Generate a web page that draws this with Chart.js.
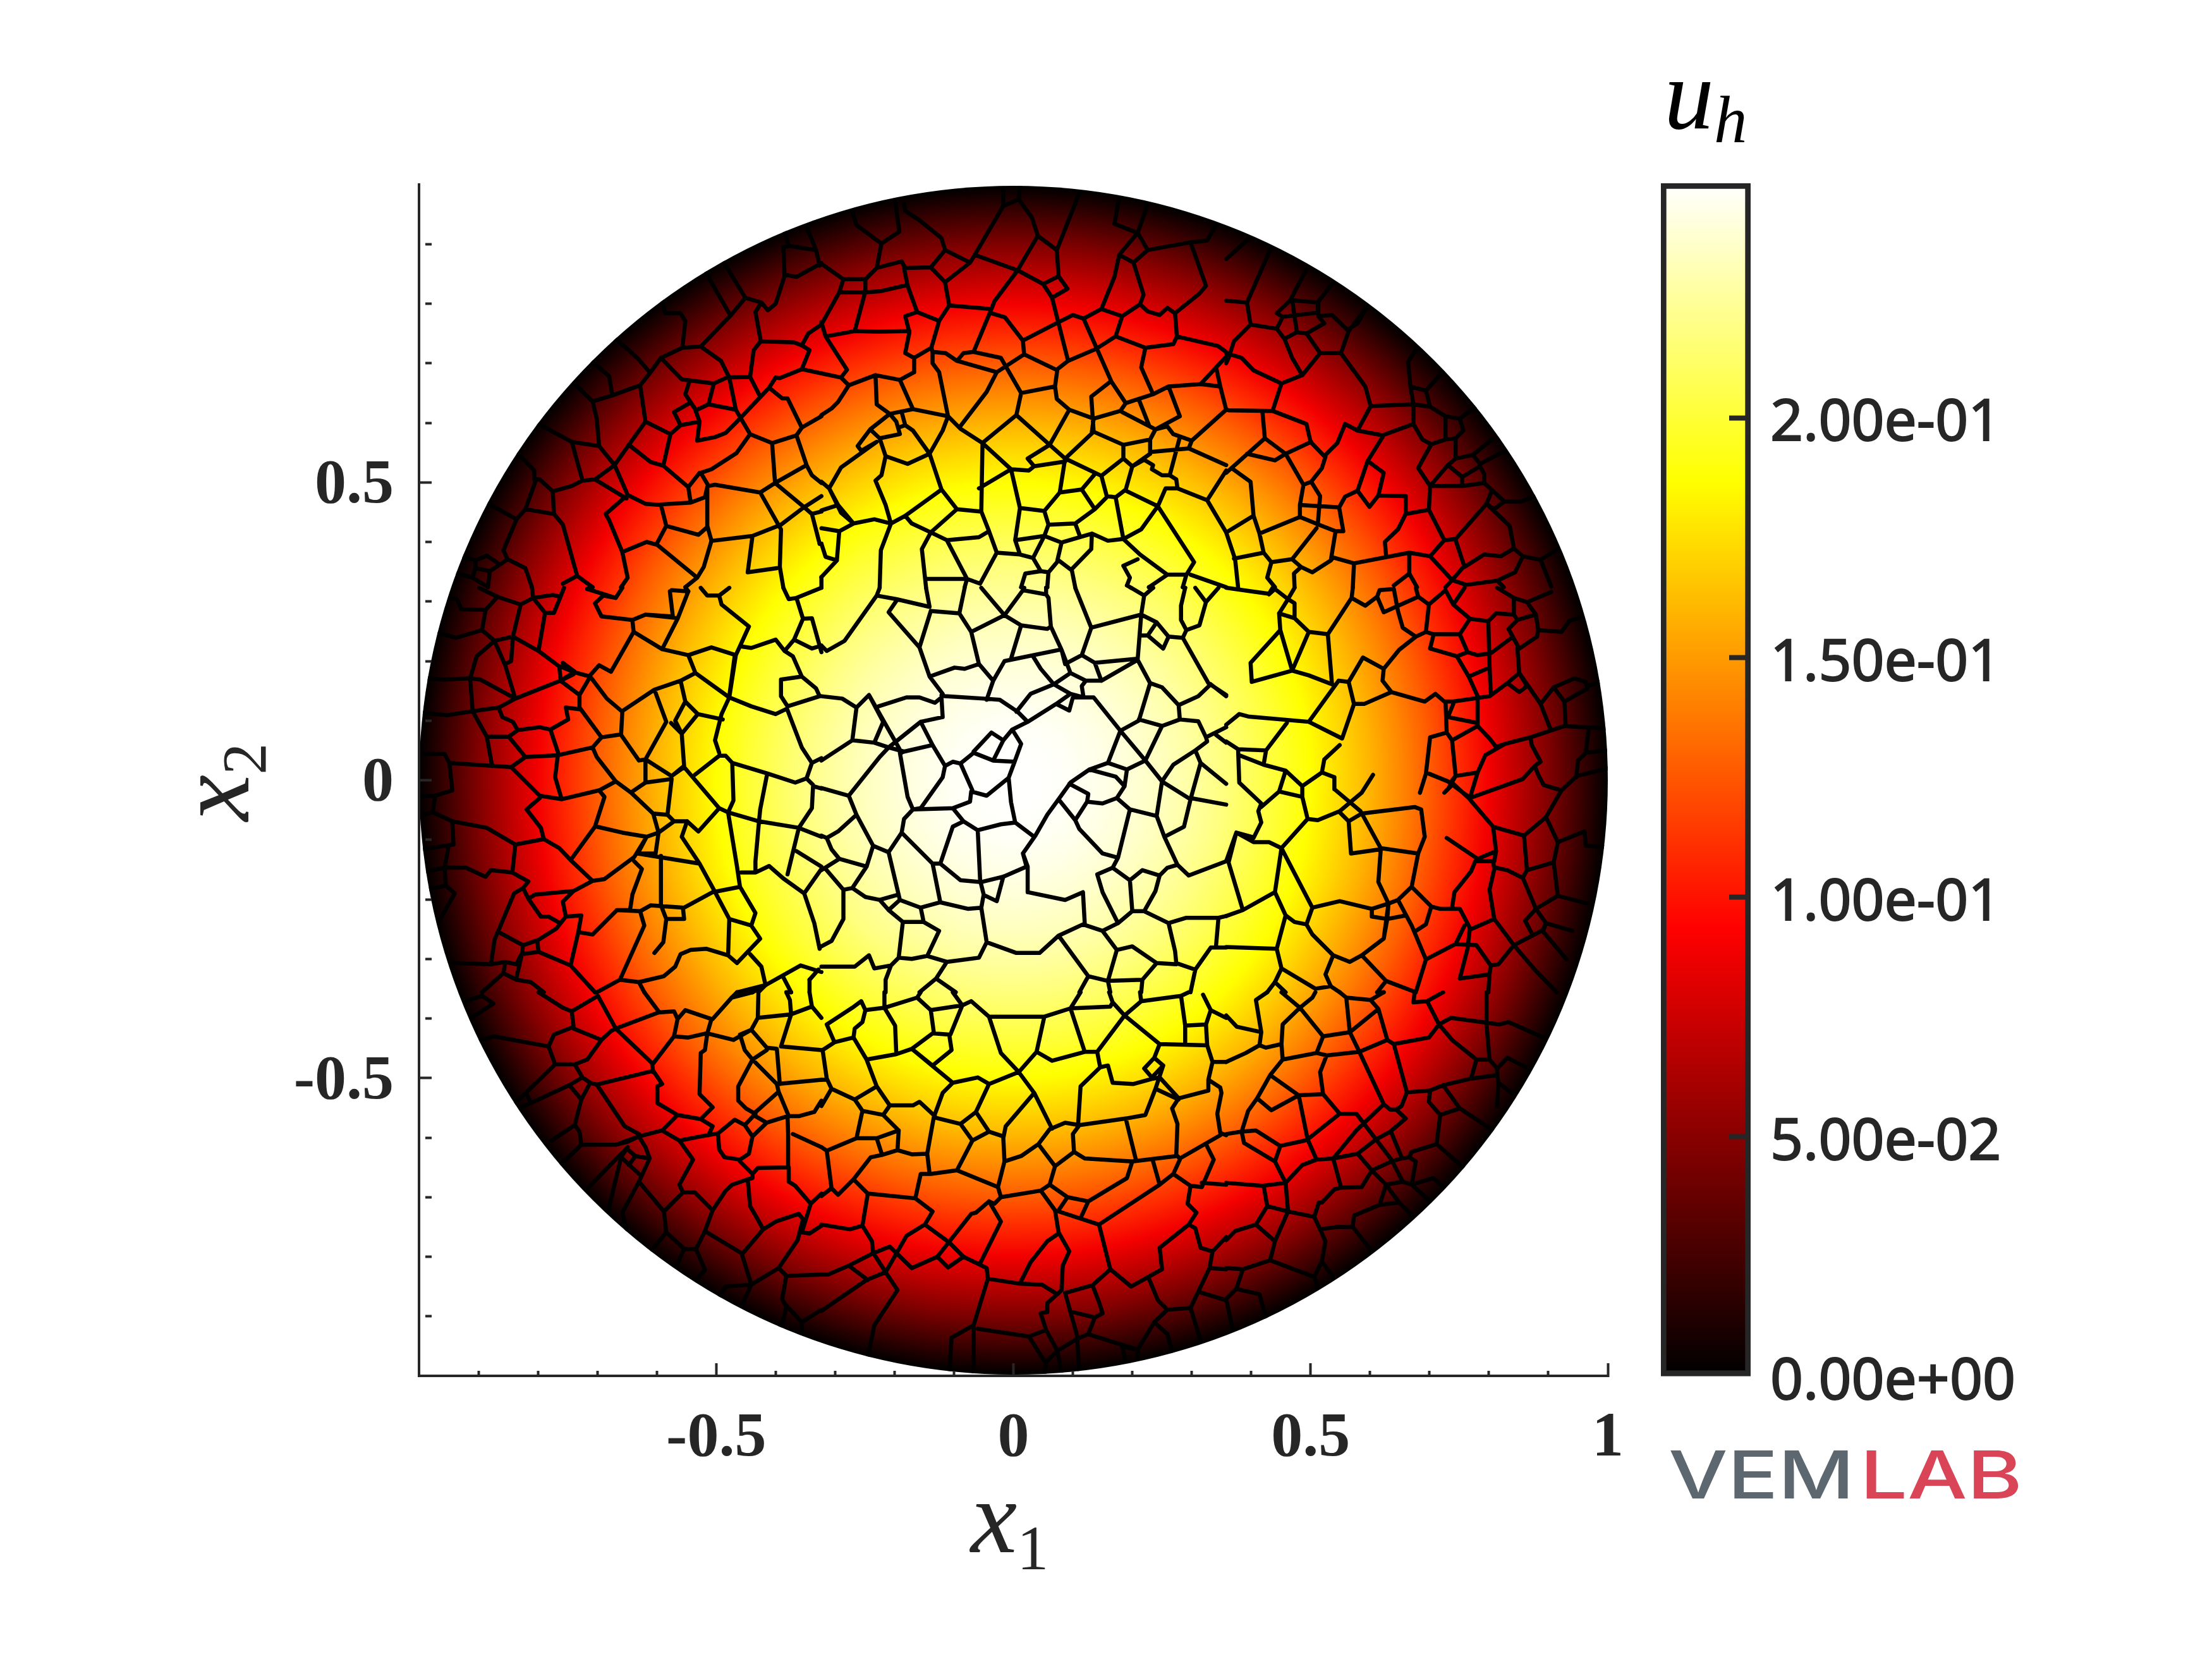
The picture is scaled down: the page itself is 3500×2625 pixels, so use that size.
<!DOCTYPE html>
<html>
<head>
<meta charset="utf-8">
<style>
html, body { margin: 0; padding: 0; background: #fff; }
canvas { position: absolute; left: 0; top: 0; }
</style>
<script src="https://cdn.jsdelivr.net/npm/chart.js@4/dist/chart.umd.js"></script>
</head>
<body>
<canvas id="plot" width="3500" height="2625"></canvas>
<canvas id="bar" width="3500" height="2625"></canvas>
<script>
// axis ticks, labels only on the long ones
const xTickValues = [-0.9,-0.8,-0.7,-0.6,-0.5,-0.4,-0.3,-0.2,-0.1,0,0.1,0.2,0.3,0.4,0.5,0.6,0.7,0.8,0.9,1];
const xTickLabels = ['','','','','-0.5','','','','','0','','','','','0.5','','','','','1'];
const yTickValues = [-0.9,-0.8,-0.7,-0.6,-0.5,-0.4,-0.3,-0.2,-0.1,0,0.1,0.2,0.3,0.4,0.5,0.6,0.7,0.8,0.9];
const yTickLabels = ['','','','','-0.5','','','','','0','','','','','0.5','','','',''];

// colour bar
const barTickValues = [0, 0.05, 0.1, 0.15, 0.2];
const barTickLabels = ['0.00e+00', '5.00e-02', '1.00e-01', '1.50e-01', '2.00e-01'];
const barMin = 0;
const barMax = 0.249;
const hotPositions = [0, 0.375, 0.75, 1];
const hotColors = [[0,0,0], [255,0,0], [255,255,0], [255,255,255]];

const fieldRadius = [0,0.05,0.1,0.15,0.2,0.25,0.3,0.35,0.4,0.45,0.5,0.55,0.6,0.65,0.7,0.75,0.8,0.85,0.9,0.95,1];
const fieldValue = [0.249,0.2484,0.2465,0.2434,0.239,0.2334,0.2266,0.2184,0.209,0.1985,0.1868,0.1737,0.1593,0.1437,0.127,0.109,0.0895,0.069,0.0475,0.0243,0];

// mesh edges, polylines of x,y pairs in thousandths of the axis unit
const meshNW = [
[-487,869,-451,810,-424,802,-413,789,-400,800,-385,847,-387,895,-378,897,-385,921],
[-517,851,-476,780,-451,810],
[-591,804,-586,784,-560,784,-552,771,-557,726,-593,709,-558,673,-504,666,-482,676,-443,677,-426,644],
[-557,726,-526,728,-476,780],
[-526,728,-492,704,-478,676,-467,622,-443,581,-466,549,-508,522,-526,516,-513,494,-502,496,-426,483,-391,421,-393,358],
[-385,849,-365,845,-323,868],
[-378,897,-332,890,-326,864],
[-348,929,-332,890],
[-434,786,-424,802],
[-434,786,-425,737,-369,735,-356,730,-343,722,-356,690,-393,675,-400,676,-411,659,-467,600,-484,583,-502,576,-532,570,-528,602,-536,624,-552,648,-545,670],
[-425,737,-437,722,-443,677],
[-356,730,-345,750,-323,765],
[-356,690,-323,683],
[-411,659,-389,641,-380,641,-356,592,-365,579,-406,566,-443,581],
[-356,592,-323,611],
[-365,579,-348,529,-339,512,-323,499],
[-406,566,-401,499,-348,529],
[-401,499,-426,483],
[-401,499,-354,460,-339,447,-326,397],
[-391,429,-354,457,-323,477],
[-339,447,-323,451],
[-439,410,-391,429],
[-506,402,-439,410,-447,349,-398,356],
[-515,427,-508,402,-521,358,-532,340,-552,324],
[-532,340,-599,395,-617,400,-658,383,-649,340,-660,324],
[-599,399,-584,427,-530,412,-515,425],
[-584,427,-593,462,-619,464,-649,479,-686,447,-680,436,-658,383],
[-593,463,-543,466,-519,475,-515,492],
[-543,466,-547,492,-528,516],
[-515,492,-515,425],
[-547,492,-589,528,-610,534,-647,563,-671,529,-649,479],
[-589,528,-577,581,-619,602,-628,663,-675,646,-708,636,-701,607,-697,561,-671,529],
[-619,602,-647,563],
[-577,581,-560,596,-528,602],
[-560,596,-571,618,-545,633],
[-532,622,-513,631,-467,622],
[-513,631,-504,666],
[-628,663,-612,683,-593,709],
[-673,743,-647,722,-630,706,-612,685],
[-708,702,-680,678,-675,646],
[-738,665,-708,636],
[-799,598,-743,568,-697,561],
[-743,568,-725,503,-704,505,-671,529],
[-704,505,-651,473],
[-725,503,-743,494,-775,485,-797,505,-806,505,-806,520,-838,553],
[-775,485,-773,447,-758,429,-734,343,-708,324],
[-773,447,-821,455,-836,438,-858,386,-851,371,-821,356,-810,324],
[-803,505,-821,455],
[-886,466,-836,438],
[-851,371,-864,362,-881,351,-905,356,-910,340,-942,349],
[-929,377,-905,369,-886,377,-864,362],
[-905,369,-905,356],
[-881,351,-884,324],
[-910,340,-884,324],
[-734,343,-758,330]
];

const meshN = [
[-271,955,-264,932,-222,901,-230,860,-249,841,-286,841,-323,867],
[-222,901,-192,921,-199,973],
[-184,968,-182,956,-158,940,-121,910,-115,890,-139,861,-182,860,-188,871,-230,860],
[-115,890,-73,869,-115,836,-139,861],
[-65,882,-73,869],
[-17,964,-65,882,7,856,50,833,76,846,91,825,65,810,50,833],
[-17,994,-17,964,9,975,11,997],
[9,975,31,945,41,914,7,856],
[41,914,73,890,76,846],
[111,986,73,890],
[178,977,170,934,209,919,225,964],
[209,919,226,890,202,869,178,882,209,919],
[226,890,298,903,326,906,341,932],
[298,903,324,830,313,817,272,784,259,793,246,781,226,787,213,799,219,815,202,869],
[178,882,170,845,148,791,183,779,213,799],
[148,791,118,775,100,781,72,767,16,738],
[65,810,92,704],
[118,775,165,669,189,633,180,620,135,607,94,622,73,640,70,661],
[183,779,172,745,139,724,92,704,74,690,70,661,13,650],
[172,745,222,726,269,732,275,745,344,729,358,719],
[272,784,275,745],
[222,726,215,693,235,648],
[235,648,261,661,315,665,348,661,358,622],
[235,648,189,633],
[261,661,280,611,239,589,183,618],
[211,639,228,596],
[315,665,341,693,348,661],
[341,693,358,711],
[239,589,230,572,185,563,135,585,131,644,163,669],
[135,607,132,585],
[230,572,230,548,200,527,185,540,185,563],
[230,551,295,557,358,529],
[185,540,148,511,87,540,135,585],
[239,589,259,594,269,581,300,570,358,622],
[300,570,295,557],
[280,576,263,512,250,512,233,522,235,529,220,538,200,527,189,488,172,475,157,477,148,511],
[263,512,274,505,276,490,326,470,358,520],
[276,490,256,490,243,460,189,486],
[326,470,358,416],
[243,460,304,366,291,345,259,345,213,379,185,405,172,475],
[243,460,215,421,185,405],
[185,405,159,402,132,414,131,388,98,354,104,324],
[132,414,81,399,52,410,59,429,104,431,111,412],
[104,431,137,455,157,475],
[137,455,115,488,137,514],
[115,488,78,483,87,540],
[78,483,52,452,59,429,52,410,33,373,46,351],
[52,452,11,457,3,403,11,379,33,373],
[3,403,52,410],
[11,457,-4,522,-52,566,-89,590,-110,611,-169,623,-191,672,-232,680,-277,663,-290,676,-323,683],
[-4,522,26,520,35,527,87,535],
[35,527,24,540,61,563,87,540],
[61,563,94,622],
[5,613,61,563],
[5,613,13,650,-21,709,-67,719,-37,791,-108,797,-115,836],
[5,613,-50,568],
[-37,791,-32,804,7,856],
[-37,784,-14,777,16,738,18,715,70,690],
[18,715,-28,685,-95,704,-84,717,-67,719],
[-28,685,-45,652,-91,592],
[-95,704,-114,717,-136,719,-138,726,-125,771,-108,797],
[-136,719,-136,700,-125,685,-110,611],
[-125,771,-162,786,-182,779,-175,752,-182,717,-167,709,-138,726],
[-162,786,-178,830,-184,860],
[-167,709,-167,685,-191,672],
[-175,754,-227,753,-267,754,-316,745,-323,769],
[-316,745,-280,689,-290,676],
[-267,754,-249,821,-249,841],
[-293,819,-249,819,-223,821,-180,831],
[-286,841,-293,819,-323,765],
[-277,663,-295,635,-306,624,-323,613],
[-232,680,-230,631,-208,615,-169,623],
[-208,615,-241,589,-262,561,-256,553,-230,568,-290,525,-310,490,-323,501],
[-241,589,-225,574,-191,581,-197,602,-208,615],
[-225,574,-215,544,-178,531,-141,548,-169,587,-182,596,-188,618],
[-182,596,-193,592],
[-110,611,-119,587,-141,548,-121,488,-95,455,-54,451,-52,566],
[-58,490,-4,522],
[-215,544,-222,512,-232,503,-215,462,-206,431,-234,438,-269,431,-290,449,-310,490],
[-206,431,-182,444,-121,488],
[-182,444,-171,431,-139,416,-95,455],
[-139,416,-112,403,-58,408,-41,418,-54,451],
[-41,418,-28,382,11,379],
[-28,382,-56,330],
[-139,416,-154,388,-147,324],
[-112,403,-78,338,-56,330],
[-145,338,-78,338,-82,324],
[-206,431,-223,386,-225,324],
[-269,431,-293,418,-297,369,-316,375,-323,397],
[-293,418,-323,423],
[-310,490,-295,462,-323,453],
[-295,462,-269,431],
[-297,369,-323,341],
[46,351,20,347,13,324],
[46,351,59,349,57,324],
[59,349,76,369,96,354],
[81,399,74,369],
[185,360,209,371],
[185,360,196,340,191,327],
[259,345,228,324],
[291,345,285,324],
[298,345,358,324]
];

const meshNE = [
[358,875,397,910],
[434,895,393,802,358,805],
[393,802,399,765,443,758,456,741,469,709,486,680,516,717,551,717,564,754,595,795],
[399,765,371,737,362,709,358,700],
[443,758,453,778,512,785],
[453,778,443,784,466,806,493,858],
[466,806,512,802,538,836],
[512,802,513,779,523,767,493,750,477,752,456,741],
[513,779,536,781,562,756,579,767,595,795],
[469,806,477,752],
[493,750,516,717],
[358,717,384,709,404,688,451,666,486,680],
[451,666,436,620,362,621,358,622],
[436,620,493,598,500,568,523,544,545,566,558,598,579,587,621,579,673,598,673,631,668,661,664,702,679,726],
[579,587,601,628,673,631,701,627,727,611,751,607,779,628],
[551,717,592,661,601,628],
[668,661,694,654,701,627],
[694,654,722,685],
[727,611,727,572,703,564,688,572,673,598],
[727,572,744,574,757,587,751,607],
[744,574,744,540,773,546,785,531,827,553],
[773,546,805,572],
[744,540,731,529,701,494,681,524,703,564],
[731,529,755,509,785,527,792,514,792,499,755,494,701,494],
[755,509,755,494],
[792,499,826,468,855,468,877,477],
[826,468,809,455,796,464,805,486],
[796,464,744,405,725,403,701,376,666,382,573,364,538,374,534,369,503,349,484,358,469,371,434,366,421,382,371,372],
[796,464,835,427,842,389,857,376,887,370,916,388],
[842,389,820,376,792,379,759,358,744,403],
[701,494,699,454,660,447,647,421,625,400,627,377],
[699,454,725,403],
[660,447,660,477,614,478,599,459,579,486],
[614,478,623,516,596,536,579,486,558,476,548,458,555,418,542,418,514,429,482,442,414,414],
[596,536,621,576],
[548,458,482,462,488,496,501,501,519,524,525,543],
[501,501,516,477,512,429],
[488,496,458,548,501,568],
[458,548,423,574,358,516],
[458,548,440,537,393,548],
[423,574,419,618],
[367,524,399,501,404,444,358,416],
[404,444,414,414,421,382],
[482,462,482,442],
[542,418,534,369],
[510,423,469,371],
[358,416,373,371,378,324],
[434,366,427,340,440,324],
[484,358,472,347,473,324],
[573,364,571,324],
[666,382,666,347,640,327],
[666,347,679,324],
[701,376,738,336,757,358],
[738,336,762,328,814,335,844,349,857,376],
[738,336,727,324],
[887,370,905,325],
[814,335,825,324]
];

const meshW = [
[-899,323,-868,308,-829,295,-808,306,-775,311,-762,308,-773,281,-788,281,-808,306],
[-762,308,-756,323],
[-829,295,-842,241,-873,234,-894,252,-888,286,-868,308],
[-888,286,-929,287,-936,304,-947,306],
[-894,252,-938,239,-966,247],
[-842,241,-799,217,-764,191,-762,171],
[-788,281,-799,217],
[-873,234,-903,208,-914,171,-910,119],
[-873,234,-855,193,-838,137],
[-855,195,-845,200,-842,241],
[-914,171,-960,169,-986,171],
[-914,171,-897,169,-838,137,-762,167,-740,178],
[-838,137,-866,122,-910,116,-953,109,-994,113],
[-866,122,-860,106,-842,98,-834,84,-797,89,-779,85,-749,102,-753,122,-730,119],
[-910,116,-886,73,-877,24],
[-886,73,-849,73,-834,84],
[-849,73,-821,39,-766,42,-708,55,-693,72,-660,77,-658,115,-684,137,-712,174,-738,181,-762,191],
[-821,39,-845,22,-949,29,-957,44,-994,44],
[-779,85,-766,46,-771,5,-760,-32,-797,-26,-845,22],
[-760,-32,-697,-17,-669,-2,-701,39,-708,55],
[-697,-17,-688,-28,-704,-78,-745,-134,-764,-114,-790,-99,-795,-80,-819,-49,-797,-30],
[-790,-99,-838,-108,-886,-80,-944,-69,-977,-54,-994,-58],
[-949,29,-944,-17,-973,-26,-977,-54],
[-973,-26,-994,-27],
[-944,-69,-942,-108,-994,-116],
[-838,-108,-843,-155,-816,-170,-825,-181,-840,-190,-873,-268,-879,-309],
[-843,-155,-879,-151,-888,-162,-921,-147,-957,-147,-994,-155],
[-951,-114,-957,-147,-955,-177,-940,-190,-966,-236],
[-955,-177,-986,-184],
[-825,-181,-816,-199,-805,-192,-740,-186,-708,-169,-688,-166,-638,-129,-617,-95,-658,-88,-701,-78],
[-745,-134,-708,-169],
[-740,-186,-758,-204,-753,-229,-727,-227,-732,-255,-708,-259,-667,-218,-628,-220],
[-753,-229,-769,-249,-799,-268,-825,-277,-866,-255],
[-816,-199,-795,-229,-782,-229,-766,-238],
[-732,-255,-745,-311,-799,-288,-801,-270],
[-799,-288,-827,-292,-825,-277],
[-827,-292,-836,-331],
[-745,-311,-704,-356],
[-662,-335,-701,-356],
[-879,-309,-855,-305,-836,-309,-829,-294],
[-879,-309,-942,-307],
[-855,-305,-858,-324,-894,-356],
[-858,-324,-836,-335,-812,-339,-790,-356],
[-628,-220,-621,-244,-662,-335],
[-628,-220,-610,-210,-554,-214,-506,-188,-460,-179],
[-667,-218,-645,-218,-641,-192,-625,-149,-638,-136],
[-593,-210,-584,-233,-554,-233,-556,-214],
[-584,-233,-589,-272,-604,-290],
[-602,-123,-632,-123,-617,-95],
[-632,-123,-528,-140,-504,-184,-478,-233],
[-602,-123,-597,-88,-571,-69,-582,-58,-606,-56,-643,-21,-669,-2],
[-617,-95,-597,-88],
[-606,-56,-597,-88],
[-582,-58,-575,2,-619,-4,-641,-19],
[-571,-69,-549,-69],
[-549,-69,-558,-95,-528,-140],
[-593,-127,-593,-212],
[-460,-179,-434,-223,-441,-244,-478,-233,-480,-294],
[-460,-179,-465,-145,-480,-54,-428,-69,-361,-80,-323,-95],
[-441,-244,-426,-266,-465,-307,-480,-294,-517,-283,-543,-285,-560,-292,-569,-313,-588,-329,-630,-339,-662,-335],
[-443,-292,-424,-313,-417,-344],
[-417,-344,-358,-311,-323,-322],
[-417,-344,-465,-356],
[-387,-331,-374,-356],
[-343,-335,-328,-318],
[-458,-155,-434,-155,-411,-144,-387,-165,-352,-190,-323,-149],
[-428,-69,-434,-136,-434,-155],
[-428,-69,-426,-49,-415,7],
[-480,-54,-495,-47,-530,-86],
[-530,-86,-549,-69],
[-495,-47,-554,22,-575,7],
[-480,-54,-471,-34,-473,29,-484,41,-495,41,-536,9],
[-473,29,-413,11,-367,-4,-348,3,-339,29,-323,37],
[-348,3,-337,-8,-339,-47,-361,-80,-380,-158],
[-337,-10,-323,-14],
[-365,-119,-323,-145],
[-352,-190,-335,-240,-326,-283],
[-339,29,-356,55,-381,120,-400,111,-441,124,-478,139,-491,111,-502,67,-495,46],
[-489,102,-531,111,-552,132,-569,100,-558,78,-531,111],
[-552,132,-560,167,-535,180,-478,139],
[-560,167,-604,152,-658,116],
[-604,152,-584,98,-619,35,-630,33,-660,76],
[-576,96,-558,78,-554,24,-575,7,-619,35],
[-619,35,-619,-4],
[-535,180,-547,210,-508,223,-467,210,-478,139],
[-547,210,-591,220,-639,249,-641,269,-619,278,-576,275],
[-641,269,-693,275,-704,297,-690,310,-669,306,-658,323],
[-669,306,-717,321],
[-619,278,-565,272],
[-578,317,-573,275],
[-575,319,-547,317],
[-547,317,-565,271,-591,220],
[-639,249,-677,182,-697,193,-714,174],
[-758,197,-738,182,-762,167,-730,143,-730,122,-693,72],
[-730,143,-712,174],
[-445,258,-460,225,-467,210],
[-445,258,-491,295,-495,310,-515,310,-526,323],
[-495,310,-478,323],
[-460,225,-441,222,-400,236,-385,217,-371,208,-356,174,-391,169,-391,141,-380,124],
[-356,174,-332,154,-326,141,-380,124],
[-385,217,-369,236,-339,221,-323,226],
[-369,236,-354,271,-339,272,-323,215],
[-354,271,-365,306,-378,304,-387,323],
[-365,306,-323,323],
[-478,141,-469,208]
];

const meshC = [
[-230,310,-197,304,-141,291,-147,323],
[-230,310,-284,234,-314,217,-323,226],
[-230,310,-225,323],
[-197,301,-210,282,-158,223,-139,284],
[-139,284,-91,280,-82,323],
[-91,280,-71,249,-58,195,-34,167,-45,135],
[-71,249,-15,277,13,260,57,254,63,258,59,306,55,312,16,319,-15,277,-32,297,-54,323],
[13,260,-4,204],
[55,323,55,312],
[16,319,18,323],
[63,258,81,219,96,180,122,167,148,167,209,202,215,278],
[-34,167,-15,200,78,219],
[33,208,46,187,68,161,96,180],
[81,219,87,195,115,210,137,197,148,167],
[115,210,131,256,215,278,241,265,261,241,285,239,328,163,358,143],
[131,256,104,323],
[137,197,209,204],
[215,278,220,310],
[220,310,198,323],
[220,310,235,323],
[215,243,226,243,241,265],
[226,243,252,221,261,241],
[285,239,291,252,313,260,324,299,306,323],
[291,252,282,269,282,293,289,323],
[324,299,345,323],
[209,202,230,163,250,156,278,126,280,102,250,91,222,33,180,83,211,100,230,163],
[278,126,311,141,332,161],
[332,161,358,141],
[211,102,250,91],
[280,102,311,99,324,72,358,89],
[324,72,326,65,306,50,269,26,250,-2,222,33],
[306,50,315,29,298,-32,250,-2],
[315,29,358,-6],
[341,76,358,63],
[298,-30,358,-41],
[298,-32,287,-78,254,-95,241,-60],
[250,-2,241,-60,196,-49,174,-30,187,-10,172,6,128,18],
[191,18,187,-10],
[128,18,159,29,191,18,222,33],
[159,29,180,83],
[128,18,96,-4,76,-32,57,-58,37,-93,16,-123,24,-145,24,-188,87,-201,117,-188,120,-240],
[94,-6,126,-23,124,-36,150,-39,174,-30],
[124,-36,104,-67,76,-32],
[104,-67,111,-82,150,-123,176,-130,196,-49],
[176,-130,167,-147,141,-158,150,-188,174,-236],
[167,-147,196,-168,217,-151,246,-160,259,-147,276,-142],
[196,-168,200,-220,176,-240],
[246,-160,239,-186,220,-220,261,-240,272,-287,274,-307,306,-318,332,-281,358,-281],
[200,-220,220,-220],
[276,-142,295,-160,358,-136],
[254,-95,276,-142],
[261,-240,291,-231,345,-231,341,-277],
[345,-231,358,-228],
[176,-240,150,-253,117,-242,76,-261,44,-290,5,-290,-45,-272,-58,-298,-112,-305,-145,-295,-171,-300,-193,-298,-186,-238,-151,-238,-125,-253,-145,-295],
[150,-253,174,-285,200,-279,241,-307,217,-335,215,-356],
[241,-307,274,-309],
[174,-285,159,-337,163,-356],
[159,-337,217,-335],
[76,-261,126,-329,111,-356],
[126,-329,159,-337],
[306,-318,298,-356],
[-45,-272,-54,-214,-50,-192,-56,-168,-60,-84,-84,-69,-102,-47,-73,-36,-71,-19,-45,-26,-8,4,-4,-37,3,-71,35,-95],
[-60,-84,-21,-74,3,-71],
[-8,4,2,31,-34,33,-67,46,-89,28,-102,31,-115,24,-136,59,-156,98,-119,106,-121,139],
[2,31,13,61,-2,85,-17,67,-34,33],
[-17,67,-37,80,-67,48],
[-2,85,24,98,7,115,-23,135,-50,137,-115,141,-121,143],
[24,98,72,128,94,117,100,139,135,139,180,83],
[72,128,96,145,118,139,115,158,122,167],
[96,145,68,161,29,145,5,115],
[-89,28,-69,-17],
[-136,59,-184,48,-191,46,-178,-28,-169,-49,-99,-47],
[-169,-49,-156,-47,-119,5,-115,24],
[-169,-49,-184,-65,-188,-88,-136,-140,-123,-140,-89,-168,-54,-171,-17,-162,22,-145,16,-123],
[-123,-140,-102,-78,-84,-69],
[-136,-140,-123,-205,-156,-214,-191,-201,-210,-121,-188,-88],
[-123,-205,-76,-216,-54,-214],
[-47,-194,-28,-203,-17,-162],
[-156,-214,-151,-238],
[-191,-201,-210,-218,-186,-238],
[-193,-192,-225,-201,-210,-218],
[-225,-201,-249,-196,-271,-181,-286,-184,-286,-233,-306,-270,-323,-279],
[-210,-121,-236,-110,-247,-145,-271,-181],
[-236,-110,-264,-58,-277,-26,-225,39,-210,55,-184,48],
[-264,-58,-295,-86,-314,-97,-323,-93],
[-314,-97,-306,-116,-293,-132,-247,-145],
[-293,-132,-323,-151],
[-316,-149,-286,-184],
[-277,-26,-323,-13],
[-323,33,-271,67,-234,63,-210,55,-156,98],
[-234,63,-219,98,-243,143,-264,122,-271,67],
[-243,143,-188,46],
[-227,124,-180,139,-158,139,-132,130,-121,139],
[-323,141,-288,137,-264,122],
[-141,174,-99,189,-82,187,-58,195],
[-158,223,-141,174,-119,145],
[-323,-313,-275,-313,-267,-313,-243,-294,-234,-316,-206,-311,-193,-298],
[-206,-311,-215,-335,-215,-356],
[-112,-305,-130,-333,-158,-356],
[-130,-333,-97,-356]
];

const meshE = [
[358,323,401,317,430,313,436,323],
[430,312,440,321,462,304,473,323],
[462,304,447,280,473,272,473,297,462,304],
[447,280,449,252,469,184,497,249,473,272],
[449,252,399,197,401,165,469,184,497,176,536,161,529,245,497,249],
[529,245,569,306,571,323],
[569,306,592,293,612,308,623,282,681,308,677,323],
[612,308,616,319,640,321],
[640,321,647,284,655,256,677,241,694,249],
[681,308,699,295,694,249,707,245,751,245,768,271,740,295,727,319],
[699,295,727,319],
[768,271,799,267,812,280,842,278,848,269,879,278,883,252,922,249,935,267,952,273],
[740,295,759,323],
[814,323,842,306,864,299,879,278],
[842,306,842,278],
[864,299,905,316],
[848,269,833,254,851,221,881,241,883,252],
[838,239,803,213,781,210,764,215,746,208,701,221,707,245],
[751,245,764,215],
[799,267,801,193,803,148],
[694,249,677,241,649,219,623,187,621,167,636,148,692,132,710,145,725,132,740,132,801,141,831,163,851,180,848,221],
[746,208,766,174,781,141],
[766,174,801,189],
[623,187,588,206,564,165,547,167,497,98,395,107,380,111,358,93],
[564,165,573,128,590,128,636,148],
[573,128,553,70,497,98],
[549,59,523,35,519,13,486,-10,458,16,421,26,380,42],
[460,96,425,50,421,26],
[425,50,378,52,358,65],
[378,52,380,-4,417,-39,412,-52,417,-71,404,-97],
[458,16,447,-19,486,-28,486,-10],
[447,-19,417,-45],
[486,-28,495,-65,451,-114,430,-104,404,-104,375,-88,358,-136],
[375,-88,401,-95],
[495,-65,512,-67,549,-52,586,-21,605,9],
[519,13,540,5,540,-15,584,-52,618,-114,681,-123,692,-95,686,-49,675,-45,586,-56,564,-69,549,-54],
[564,-69,568,-123,618,-116],
[618,-116,614,-171,631,-207,647,-201,670,-179,681,-123],
[631,-207,603,-216,549,-203,503,-214,451,-114],
[503,-214,493,-242,473,-238,458,-227,440,-188,451,-114],
[440,-188,386,-218,362,-138,375,-88],
[386,-218,358,-228],
[458,-227,443,-283,358,-280],
[443,-283,451,-316,508,-350,534,-346,525,-326,538,-294,566,-305,586,-294,623,-266,631,-207],
[493,-242,503,-259,538,-294],
[603,-216,603,-229,629,-233,660,-227],
[631,-207,629,-233,623,-266],
[647,-201,670,-244,694,-301,677,-356],
[670,-179,703,-212,718,-216,751,-216,768,-248,764,-283,751,-333,801,-326,799,-356],
[703,-212,694,-242,677,-253],
[694,-301,744,-275,779,-277,803,-311,816,-309,842,-277,892,-251,896,-240],
[744,-275,759,-244],
[803,-311,801,-326],
[768,-251,809,-233],
[809,-233,842,-277,877,-318,914,-356],
[809,-233,801,-184,809,-149,807,-136,777,-136,770,-153,742,-188,738,-214],
[812,-147,831,-151,857,-164,879,-216,896,-240,890,-253],
[857,-164,864,-151,909,-138,916,-194,879,-216,861,-236,872,-257],
[916,-194,966,-207],
[896,-240,940,-253],
[890,-253,931,-301],
[909,-138,916,-104,961,-86,963,-110,996,-112],
[916,-104,896,-62,859,-93,807,-78,766,-30,740,-6,727,-19],
[859,-93,864,-151],
[807,-78,812,-119,809,-136],
[812,-119,781,-132,729,-97],
[896,-62,922,-17,892,-8,883,9,877,24,857,2,768,-30],
[922,-17,948,7,1000,20],
[877,24,887,31,872,59,870,72],
[870,72,927,91,996,87],
[870,72,827,61,794,42,781,13,744,7,738,0],
[827,61,812,56,801,70,781,91,738,67,729,80,701,72,694,11,684,-21],
[781,91,781,137],
[781,96,731,106,740,128],
[727,132,729,80],
[738,67,744,7,731,-15,725,-21],
[699,11,731,-2,766,-28],
[781,13,768,-30],
[831,163,851,148,864,158,851,180],
[851,180,887,128,903,87],
[887,128,909,156,927,132,929,94],
[909,156,944,171,963,165,966,154,927,132],
[966,158,987,165],
[968,87,963,46,950,33,947,5],
[963,46,996,50],
[586,-294,627,-337,677,-356],
[627,-337,612,-356],
[451,-316,440,-339,458,-356]
];

const meshSW = [
[-799,-356,-758,-382,-743,-388,-699,-362,-669,-417,-608,-475,-606,-490],
[-743,-388,-740,-414,-773,-427,-782,-447,-771,-477,-738,-477,-717,-469,-693,-436,-677,-421,-669,-417],
[-740,-417,-693,-436],
[-875,-430,-782,-447],
[-875,-430,-899,-438],
[-771,-477,-838,-542],
[-738,-477,-725,-499,-712,-508,-701,-511,-606,-488,-591,-510,-599,-514,-599,-542,-565,-562,-526,-569,-506,-549,-528,-527,-526,-458,-519,-453,-515,-425,-508,-401,-552,-386,-565,-401,-571,-388,-597,-390,-669,-417],
[-725,-499,-747,-512,-812,-542,-829,-549],
[-819,-527,-812,-542],
[-747,-512,-727,-536,-712,-508],
[-727,-536,-738,-579,-777,-605],
[-738,-579,-730,-590,-727,-612,-669,-612,-630,-598,-591,-588,-565,-562],
[-701,-511,-654,-581,-630,-594],
[-727,-612,-760,-644],
[-669,-612,-649,-607,-630,-598,-619,-616,-612,-635,-630,-674,-588,-724,-584,-759,-554,-787,-534,-787,-519,-757,-506,-722,-536,-692,-556,-692,-562,-679,-539,-637,-562,-605,-591,-588],
[-588,-724,-556,-692],
[-562,-605,-526,-598,-497,-593,-469,-570,-452,-579,-439,-598,-445,-627,-460,-637,-486,-633,-495,-620,-497,-593],
[-526,-569,-506,-581,-513,-596],
[-649,-616,-716,-685],
[-649,-616,-660,-633,-682,-724],
[-660,-633,-630,-661],
[-649,-620,-636,-631,-612,-635],
[-636,-631,-647,-646],
[-630,-674,-658,-726,-651,-754],
[-584,-759,-608,-789],
[-554,-787,-567,-815],
[-534,-787,-519,-822,-534,-839],
[-519,-757,-456,-795,-421,-754,-400,-741,-361,-728,-354,-737,-363,-772,-395,-819,-441,-847,-457,-795],
[-506,-722,-484,-689,-473,-679,-447,-670,-439,-668,-439,-661,-460,-640],
[-447,-670,-443,-715,-428,-741,-421,-754],
[-439,-661,-430,-651,-378,-650,-379,-594,-380,-564,-415,-575,-434,-564],
[-439,-598,-415,-575],
[-452,-579,-434,-560,-450,-551,-463,-538,-463,-514,-439,-469,-398,-510,-395,-523,-437,-560],
[-395,-523,-378,-564,-361,-564,-335,-557,-323,-538],
[-398,-510,-323,-503],
[-439,-469,-452,-453,-460,-427,-441,-419,-415,-449,-398,-451,-393,-510],
[-439,-469,-415,-453],
[-471,-436,-515,-425],
[-471,-436,-441,-419,-430,-399,-374,-393,-391,-447,-323,-453],
[-430,-399,-429,-356],
[-506,-401,-474,-365,-439,-356],
[-374,-393,-376,-369,-382,-356],
[-374,-393,-339,-380,-343,-356],
[-339,-380,-323,-399],
[-371,-594,-323,-616],
[-378,-650,-378,-674,-367,-681,-341,-711,-356,-759,-343,-761,-323,-748],
[-341,-711,-323,-694],
[-395,-819,-382,-832,-323,-830],
[-382,-832,-389,-871,-382,-884,-387,-906,-393,-919],
[-382,-882,-356,-910,-323,-889],
[-356,-910,-356,-925],
[-441,-847,-456,-880],
[-441,-847,-484,-850,-495,-867],
[-597,-388,-621,-356],
[-571,-430,-547,-432,-517,-425],
[-571,-430,-565,-401],
[-571,-430,-607,-477],
[-894,-362,-875,-375,-912,-399],
[-921,-371,-894,-362]
];

const meshS = [
[-314,-410,-271,-382,-256,-371,-249,-386,-217,-382,-162,-365,-156,-356],
[-217,-382,-217,-356],
[-217,-382,-199,-412,-197,-460,-247,-469,-269,-432,-301,-440,-314,-410],
[-269,-432,-267,-417,-254,-406,-249,-386],
[-197,-460,-171,-451,-136,-425,-108,-427,-104,-453,-136,-479,-171,-451],
[-162,-365,-139,-386,-134,-423],
[-139,-386,-86,-378,-71,-371,-41,-397,-21,-458,9,-490,39,-456,52,-397,96,-383,163,-380,167,-373,161,-356],
[-86,-378,-102,-356],
[-86,-378,-106,-427],
[-41,-397,52,-397],
[96,-383,113,-356],
[96,-383,120,-456,141,-456,187,-395,167,-373],
[187,-395,215,-371,213,-356],
[215,-371,282,-362,289,-412,324,-410,326,-445,246,-443,187,-395],
[282,-362,295,-356],
[289,-412,289,-443],
[324,-410,332,-386,358,-399],
[332,-386,319,-360],
[120,-456,65,-471,39,-456],
[141,-456,146,-482,159,-479,167,-508,202,-510,235,-501,246,-499,278,-534,328,-521,328,-503],
[146,-482,113,-514,109,-575],
[246,-443,237,-466,220,-484,233,-499,252,-479,237,-466],
[252,-479,239,-518,278,-536],
[239,-518,222,-562,189,-568],
[326,-445,335,-473,328,-503,348,-516,350,-525,343,-560,348,-592,358,-596],
[335,-473,358,-473],
[278,-534,267,-551,276,-577,274,-629,280,-635,348,-596],
[274,-631,200,-640,120,-635,102,-624,70,-648,42,-611,61,-586,87,-575,111,-579,189,-568,206,-637],
[111,-579,100,-594,102,-624],
[9,-490,35,-525,65,-585],
[35,-525,-13,-581,-17,-601,-15,-640,-26,-683,-21,-700,46,-689,61,-679,70,-648],
[42,-611,13,-631,-15,-640],
[-17,-598,-41,-590,-63,-557,-41,-510,-60,-499,-102,-508,-119,-525,-134,-566,-89,-577,-63,-557],
[-41,-510,9,-490],
[-102,-508,-171,-451],
[-89,-577,-69,-605,-41,-590],
[-69,-605,-95,-655,-58,-670,-26,-683],
[-95,-655,-139,-661,-156,-661,-165,-702,-245,-694,-269,-670,-295,-696,-306,-685,-314,-622,-323,-616],
[-134,-566,-145,-627,-141,-661],
[-145,-627,-171,-628,-195,-621,-221,-629,-240,-633,-269,-670],
[-195,-621,-193,-588,-230,-601,-221,-629],
[-193,-588,-219,-562,-208,-546,-169,-546,-158,-540,-132,-564],
[-219,-562,-254,-555,-267,-536,-230,-514,-208,-546],
[-230,-514,-247,-469],
[-267,-536,-306,-518,-314,-501,-321,-453,-301,-440],
[-306,-518,-323,-547],
[-314,-503,-323,-503],
[-254,-555,-264,-601,-314,-622],
[-264,-601,-230,-601],
[-306,-685,-323,-698],
[-245,-694,-254,-748,-275,-754,-323,-746],
[-254,-748,-238,-774,-236,-793,-215,-826,-195,-856,-234,-915,-245,-969],
[-165,-702,-136,-724,-149,-746,-180,-765,-215,-826,-247,-839,-323,-891],
[-149,-746,-108,-776,-84,-800,-45,-819,-43,-837,9,-845,48,-847,74,-863,81,-856],
[-208,-783,-171,-819,-128,-800,-110,-818,-84,-800],
[-208,-783,-238,-795,-277,-815,-312,-830,-323,-830],
[-277,-815,-245,-839],
[-128,-800,-71,-728,-63,-726,-41,-707,-21,-741,-56,-811],
[-41,-707,-32,-711,-21,-700],
[-43,-837,-67,-915,-104,-936,-108,-997],
[-67,-915,-67,-997],
[-60,-921,26,-934],
[26,-934,55,-923,46,-895,57,-893,57,-878,81,-856,83,-815,94,-791,76,-759,70,-722,144,-746,163,-821,133,-848,87,-861],
[11,-845,29,-809,57,-774,76,-761],
[70,-722,46,-689],
[61,-679,91,-700,126,-707,191,-668,200,-640],
[91,-700,76,-722],
[126,-707,115,-731],
[144,-746,246,-679,269,-661,280,-637],
[235,-640,246,-679],
[269,-661,298,-681,293,-711,308,-726,295,-746,246,-785,250,-821,198,-850,163,-821],
[295,-746,306,-752,315,-785,335,-791,358,-767],
[298,-681,317,-683,337,-637,324,-611],
[317,-676,358,-679],
[335,-791,330,-819,298,-886,259,-889,237,-910,209,-956,126,-930],
[330,-819,358,-821],
[228,-837,243,-873,259,-889],
[315,-860,358,-873],
[298,-886,315,-941],
[237,-910,259,-930,267,-958],
[209,-956,183,-951,189,-975],
[209,-956,209,-971],
[133,-848,144,-876,150,-895,137,-902,100,-893],
[137,-902,126,-930],
[87,-861,107,-932,111,-997],
[126,-930,107,-938,74,-958,55,-977,52,-997],
[55,-923,74,-958,81,-997],
[26,-934,52,-975]
];

const meshSE = [
[427,-356,408,-369,417,-423,376,-414,358,-395],
[417,-423,414,-445,425,-449,451,-443,453,-410,482,-382,451,-356],
[414,-445,391,-458,358,-473],
[482,-382,503,-365,508,-356],
[482,-382,521,-430,510,-458,453,-469,451,-443],
[521,-430,566,-423,560,-365,549,-356],
[560,-365,601,-369,614,-384,566,-423,582,-456,623,-544,634,-553,644,-553,660,-568,634,-590,610,-603,579,-627,538,-635,510,-637,486,-646,458,-676],
[601,-369,623,-356],
[614,-384,629,-436,640,-443,699,-432,716,-410,736,-399,818,-410,833,-406,892,-432],
[629,-436,582,-456,527,-462,510,-458],
[527,-462,516,-490,521,-527,480,-529,432,-495,453,-469],
[521,-527,549,-560,577,-560,610,-603,636,-637,655,-674,627,-679,603,-655,579,-627],
[549,-560,495,-603,490,-605,449,-614,408,-588,384,-590,358,-594],
[480,-529,495,-603,510,-637],
[480,-529,434,-554,410,-534,432,-495],
[410,-534,395,-555,384,-590,388,-609,440,-640,458,-676,462,-724,506,-733,516,-754,525,-774,519,-808,506,-834],
[449,-614,440,-640],
[358,-676,419,-681,458,-676],
[421,-681,427,-715,462,-724,440,-774,432,-806,386,-821,358,-819],
[427,-715,408,-746,440,-774],
[408,-746,373,-757,358,-772],
[432,-806,506,-834,512,-850],
[519,-808,538,-834],
[386,-821,375,-854,414,-863,425,-902],
[375,-854,358,-871,369,-923],
[516,-754,545,-750,571,-750,603,-791],
[571,-750,573,-731,616,-713,649,-709,673,-733],
[616,-713,627,-679],
[627,-679,649,-709],
[506,-733,514,-709,519,-709,540,-687,551,-684,586,-683,603,-655,636,-640,653,-635,666,-633,677,-640,670,-679,655,-674],
[538,-635,551,-683],
[636,-592,653,-633],
[623,-544,577,-588,538,-635],
[670,-679,707,-668,723,-683],
[670,-679,701,-707],
[666,-633,670,-624,712,-611,718,-562,751,-551,807,-588],
[712,-611,757,-650],
[718,-562,699,-540,701,-521,662,-524,653,-547,644,-553],
[640,-443,662,-524],
[701,-521,723,-512,751,-551],
[723,-512,770,-501,814,-495,816,-508,814,-547],
[770,-501,779,-469,801,-469,814,-484,831,-466,866,-484],
[814,-484,814,-495],
[716,-410,738,-436,779,-469],
[801,-469,796,-410,796,-356],
[696,-371,673,-373,675,-356],
[696,-371,716,-410],
[696,-371,723,-356],
[816,-508,838,-525]
];

// edges that cross from one of the regions above into the next
const meshSeams = [
[-552,324,-547,317],
[-660,324,-658,323],
[-708,324,-717,321],
[-810,324,-808,306],
[-323,323,-323,341],
[-393,358,-387,323],
[-323,397,-326,397],
[13,324,18,323],
[57,324,55,323],
[191,327,198,323],
[228,324,235,323],
[285,324,289,323],
[-465,-356,-474,-365],
[-621,-356,-630,-339],
[-439,-356,-417,-344],
[-429,-356,-417,-344],
[-382,-356,-374,-356],
[-343,-356,-343,-335],
[549,-356,534,-346],
[427,-356,440,-339],
[612,-356,623,-356]
];

const meshRegions = [meshNW, meshN, meshNE, meshW, meshC, meshE, meshSW, meshS, meshSE, meshSeams];

const inkColor = '#262626';

function hotColor(u) {
    var t = Math.min(1, Math.max(0, (u - barMin) / (barMax - barMin)));
    var i = 0;
    while (i < hotPositions.length - 2 && t > hotPositions[i + 1]) i++;
    var f = (t - hotPositions[i]) / (hotPositions[i + 1] - hotPositions[i]);
    var a = hotColors[i], b = hotColors[i + 1];
    return 'rgb(' + [0, 1, 2].map(function (k) { return Math.round(a[k] + (b[k] - a[k]) * f); }).join(',') + ')';
}

function unitRadius(chart) {
    var r = chart.scales.x.getPixelForValue(1) - chart.scales.x.getPixelForValue(0);
    return isFinite(r) ? r : 0;
}

// options get resolved once before the scales have a size, hence the guards
function fieldGradient(context) {
    var chart = context.chart;
    var cx = chart.scales.x.getPixelForValue(0);
    var cy = chart.scales.y.getPixelForValue(0);
    if (!isFinite(cx) || !isFinite(cy)) return 'transparent';
    var g = chart.ctx.createRadialGradient(cx, cy, 0, cx, cy, unitRadius(chart));
    fieldRadius.forEach(function (r, i) { g.addColorStop(r, hotColor(fieldValue[i])); });
    return g;
}

function barGradient(context) {
    var chart = context.chart;
    var sy = chart.scales.y;
    var y0 = sy.getPixelForValue(barMin);
    var y1 = sy.getPixelForValue(barMax);
    if (!isFinite(y0) || !isFinite(y1)) return 'transparent';
    var g = chart.ctx.createLinearGradient(0, y0, 0, y1);
    hotPositions.forEach(function (p, i) {
        g.addColorStop(p, 'rgb(' + hotColors[i].join(',') + ')');
    });
    return g;
}

function toPoints(region) {
    var points = [];
    region.forEach(function (line) {
        for (var i = 0; i < line.length; i += 2) {
            points.push({ x: line[i] / 1000, y: line[i + 1] / 1000 });
        }
        points.push({ x: NaN, y: NaN });
    });
    return points;
}

// the disc is one big point at the origin, a bubble would freeze its radius at parse time
var datasets = [{
    label: 'u_h',
    data: [{ x: 0, y: 0 }],
    order: 10,
    pointRadius: function (c) { return unitRadius(c.chart); },
    pointBorderWidth: 0,
    pointBackgroundColor: fieldGradient
}];
meshRegions.forEach(function (region, i) {
    datasets.push({
        label: 'mesh' + i,
        data: toPoints(region),
        order: 0,
        showLine: true,
        spanGaps: false,
        pointRadius: 0,
        borderColor: '#000',
        borderWidth: 6.5,
        borderJoinStyle: 'round',
        borderCapStyle: 'round'
    });
});

// keeps mesh ends inside the disc
var discClip = {
    id: 'discClip',
    beforeDatasetDraw: function (chart, args) {
        if (args.index === 0) return;
        var ctx = chart.ctx;
        ctx.save();
        ctx.beginPath();
        ctx.arc(chart.scales.x.getPixelForValue(0), chart.scales.y.getPixelForValue(0), unitRadius(chart), 0, Math.PI * 2);
        ctx.clip();
    },
    afterDatasetDraw: function (chart, args) {
        if (args.index !== 0) chart.ctx.restore();
    }
};

function subscripted(ctx, main, sub, x, y, mainFont, subFont, drop, color) {
    ctx.fillStyle = color;
    ctx.textBaseline = 'alphabetic';
    ctx.textAlign = 'left';
    ctx.font = mainFont;
    ctx.fillText(main, x, y);
    var w = ctx.measureText(main).width;
    ctx.font = subFont;
    ctx.fillText(sub, x + w, y + drop);
}

function fittedText(ctx, text, left, right, baseline, font, color) {
    ctx.save();
    ctx.font = font;
    ctx.fillStyle = color;
    ctx.textAlign = 'left';
    ctx.textBaseline = 'alphabetic';
    var w = ctx.measureText(text).width;
    ctx.translate(left, baseline);
    ctx.scale((right - left) / w, 1);
    ctx.fillText(text, 0, 0);
    ctx.restore();
}

var annotations = {
    id: 'annotations',
    afterDraw: function (chart) {
        var ctx = chart.ctx;
        var mathFont = "italic 165px 'Liberation Serif'";
        var subFont = "100px 'Liberation Serif'";
        ctx.save();
        subscripted(ctx, 'x', '1', 1536, 2456, mathFont, subFont, 27, inkColor);
        ctx.translate(393, 1299);
        ctx.rotate(-Math.PI / 2);
        subscripted(ctx, 'x', '2', 0, 0, mathFont, subFont, 27, inkColor);
        ctx.restore();
        ctx.save();
        subscripted(ctx, 'u', 'h', 2633, 203, "italic 158px 'Liberation Serif'", "italic 105px 'Liberation Serif'", 22, '#000');
        ctx.restore();
        fittedText(ctx, 'VEM', 2640, 2934, 2371, "500 105px 'Inter'", '#5c6770');
        fittedText(ctx, 'LAB', 2943, 3200, 2371, "500 105px 'Inter'", '#d94556');
    }
};

function plotGrid(values, labels) {
    return {
        drawOnChartArea: false,
        drawTicks: true,
        tickLength: -20,
        tickWidth: 4,
        tickColor: inkColor,
        z: 1,
        // short ticks: only the first part of the dash stays visible
        tickBorderDash: function (c) { return c.index !== undefined && labels[c.index] === '' ? [10, 40] : []; }
    };
}

new Chart(document.getElementById('plot'), {
    type: 'scatter',
    data: { datasets: datasets },
    plugins: [discClip, annotations],
    options: {
        responsive: false,
        animation: false,
        devicePixelRatio: 1,
        events: [],
        layout: { padding: { left: 363, right: 956, top: 292, bottom: 148 } },
        plugins: { legend: { display: false }, tooltip: { enabled: false } },
        scales: {
            x: {
                type: 'linear',
                min: -1,
                max: 1,
                afterFit: function (s) { s.height = 300; },
                afterBuildTicks: function (s) { s.ticks = xTickValues.map(function (v) { return { value: v }; }); },
                // border has to follow the grid layer, it reuses the position the grid computes
                border: { display: true, color: inkColor, width: 4, z: 1 },
                grid: plotGrid(xTickValues, xTickLabels),
                ticks: {
                    autoSkip: false,
                    maxRotation: 0,
                    minRotation: 0,
                    padding: 60,
                    color: inkColor,
                    font: { family: 'Liberation Serif', weight: 'bold', size: 100 },
                    callback: function (v, i) { return xTickLabels[i]; }
                }
            },
            y: {
                type: 'linear',
                min: -1,
                max: 1,
                afterFit: function (s) { s.width = 300; },
                afterBuildTicks: function (s) { s.ticks = yTickValues.map(function (v) { return { value: v }; }); },
                border: { display: true, color: inkColor, width: 4, z: 1 },
                grid: plotGrid(yTickValues, yTickLabels),
                ticks: {
                    autoSkip: false,
                    padding: 60,
                    labelOffset: 6,
                    color: inkColor,
                    font: { family: 'Liberation Serif', weight: 'bold', size: 100 },
                    callback: function (v, i) { return yTickLabels[i]; }
                }
            }
        }
    }
});

new Chart(document.getElementById('bar'), {
    type: 'bar',
    data: {
        labels: ['u_h'],
        datasets: [{
            data: [[barMin, barMax]],
            backgroundColor: barGradient,
            borderColor: inkColor,
            borderWidth: 9,
            borderSkipped: false,
            barPercentage: 1,
            categoryPercentage: 1
        }]
    },
    options: {
        responsive: false,
        animation: false,
        devicePixelRatio: 1,
        events: [],
        layout: { padding: { left: 2628, right: 230, top: 290, bottom: 447 } },
        plugins: { legend: { display: false }, tooltip: { enabled: false } },
        scales: {
            x: { display: false },
            y: {
                position: 'right',
                min: barMin,
                max: barMax,
                afterFit: function (s) { s.width = 500; },
                afterBuildTicks: function (s) { s.ticks = barTickValues.map(function (v) { return { value: v }; }); },
                border: { display: false },
                grid: {
                    drawOnChartArea: false,
                    drawTicks: true,
                    tickLength: -34,
                    tickWidth: 8,
                    tickColor: function (c) { return c.index === 0 ? 'transparent' : inkColor; },
                    z: 1
                },
                ticks: {
                    padding: 65,
                    labelOffset: 10,
                    color: inkColor,
                    textStrokeColor: inkColor,
                    textStrokeWidth: 2,
                    font: { family: 'Noto Sans', size: 91 },
                    callback: function (v, i) { return barTickLabels[i]; }
                }
            }
        }
    }
});
</script>
</body>
</html>
